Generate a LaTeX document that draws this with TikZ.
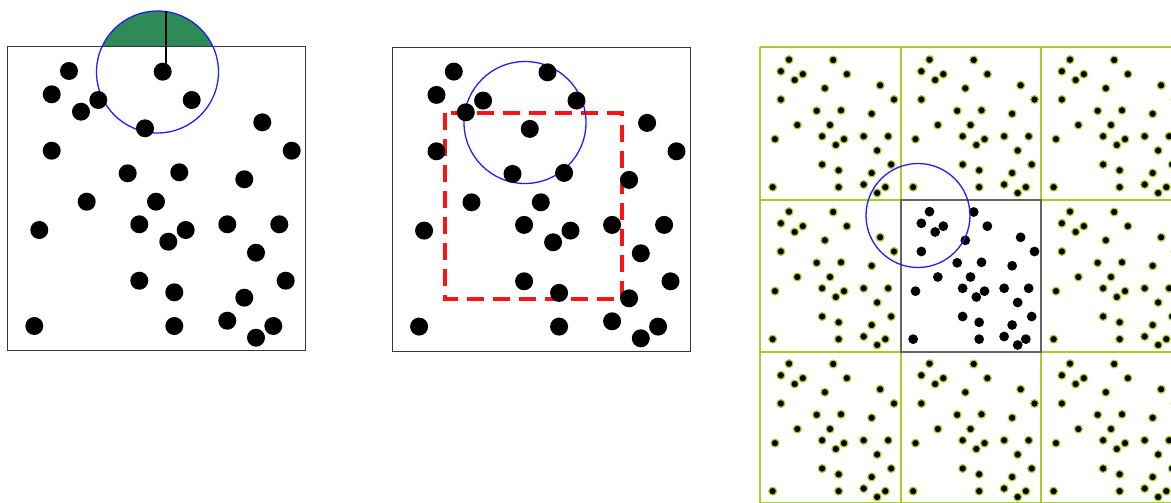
\documentclass[tikz,border=0pt]{standalone}
\definecolor{segreen}{RGB}{46,139,87}
\definecolor{limeline}{RGB}{165,205,45}
\definecolor{boxgray}{RGB}{55,55,55}
\definecolor{tilegray}{RGB}{100,100,100}
\definecolor{circblue}{RGB}{30,30,255}
\definecolor{dashred}{RGB}{250,20,20}
\tikzset{
  boxline/.style={draw=boxgray, line width=1.4pt},
  bluecirc/.style={draw=circblue, line width=1.3pt},
  reddash/.style={draw=dashred, line width=4pt, dash pattern=on 17pt off 9pt},
  bigdot/.style={fill=black},
  tiledot/.style={fill=black, draw=limeline, line width=1.2pt},
  centredot/.style={fill=black},
  gridline/.style={draw=limeline, line width=2pt},
  tilebox/.style={draw=tilegray, line width=2pt}
}
\def\dotlist{61.5/24.3,155.2/25,44.2/47.6,90.8/53.3,73.5/65,184.2/53.3,137.5/81.6,254.8/75.6,44.2/104,284.2/104,120.2/126.6,171.8/125.6,236.8/132.6,79.2/155,148.5/155,31.8/183.3,131.8/177.6,178.2/183.3,160.8/195,219.8/177.6,271.8/177.6,248.5/206,131.8/234,166.8/245.6,278.2/234,236.8/251,26.8/279.3,166.8/279.3,219.8/274,265.8/279.3,248.5/291}
\begin{document}
\begin{tikzpicture}[x=1pt,y=-1pt]
\useasboundingbox (0,0) rectangle (1171,503);
\fill[white] (0,0) rectangle (1171,503);
\clip (0,0) rectangle (1171,503);

% ---------- left panel ----------
\begin{scope}
  \clip (0,0) rectangle (400,46.7);
  \fill[segreen] (157.5,72) circle[radius=61pt];
\end{scope}
\draw[boxline] (7.5,46.7) rectangle (305.7,350.7);
\draw[bluecirc] (157.5,72) circle[radius=61pt];
\draw[black, line width=1.3pt] (166,11) -- (166,64);
\foreach \x/\y in \dotlist {
  \fill[bigdot] ({7.5+\x},{46.7+\y}) circle[radius=9pt];
}

% ---------- middle panel ----------
\draw[boxline] (392.3,47.3) rectangle (690.5,351.3);
\draw[reddash] (445,113.3) rectangle (621.7,299.3);
\draw[bluecirc] (525,122.5) circle[radius=61pt];
\foreach \x/\y in \dotlist {
  \fill[bigdot] ({392.3+\x},{47.3+\y}) circle[radius=9pt];
}

% ---------- right panel ----------
\foreach \xx in {760,900.5,1041,1181.5} {
  \draw[gridline] (\xx,47.5) -- (\xx,503);
}
\foreach \yy in {47.5,199.5,351.5,502.5} {
  \draw[gridline] (760,\yy) -- (1181.5,\yy);
}
\foreach \cx in {0,1,2} {
  \foreach \cy in {0,1,2} {
    \pgfmathsetmacro{\ox}{760+140.5*\cx}
    \pgfmathsetmacro{\oy}{47.5+152*\cy}
    \pgfmathtruncatemacro{\iscentre}{(\cx==1)&&(\cy==1) ? 1 : 0}
    \ifnum\iscentre=0
      \foreach \x/\y in \dotlist {
        \filldraw[tiledot] ({\ox+0.4715*\x},{\oy+0.5*\y}) circle[radius=3.9pt];
      }
    \fi
  }
}
\draw[tilebox] (900.5,199.5) rectangle (1041,351.5);
\foreach \x/\y in \dotlist {
  \fill[centredot] ({900.5+0.4715*\x},{199.5+0.5*\y}) circle[radius=4.9pt];
}
\draw[bluecirc] (918,215.5) circle[radius=52pt];
\end{tikzpicture}
\end{document}
